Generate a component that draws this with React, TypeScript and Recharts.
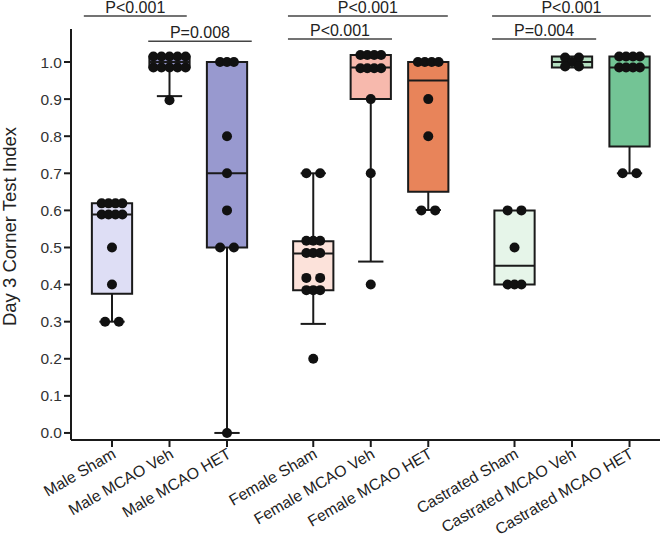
import { ScatterChart, Scatter, XAxis, YAxis, ReferenceArea, ReferenceLine, Label } from 'recharts'

const categories = [
  'Male Sham', 'Male MCAO Veh', 'Male MCAO HET',
  'Female Sham', 'Female MCAO Veh', 'Female MCAO HET',
  'Castrated Sham', 'Castrated MCAO Veh', 'Castrated MCAO HET',
]
// groups are spaced apart on a numeric x axis
const positions = [0, 1, 2, 3.5, 4.5, 5.5, 7, 8, 9]
const boxColors = ['#dedef5', '#9899cf', '#9899cf', '#fce2da', '#f7b9ad', '#e8845a', '#e6f5e9', '#b5dfc1', '#73c495']

// box stats (null = no whisker drawn)
const whiskerLow = [0.3, 0.908, 0.0, 0.294, 0.462, 0.601, null, null, 0.7]
const q1 = [0.375, 0.985, 0.5, 0.385, 0.9, 0.65, 0.4, 0.985, 0.772]
const median = [0.589, 1.0, 0.7, 0.484, 0.985, 0.95, 0.451, 1.0, 0.985]
const q3 = [0.619, 1.015, 1.0, 0.517, 1.019, 1.0, 0.6, 1.015, 1.015]
const whiskerHigh = [null, null, null, 0.7, null, null, null, null, null]

// individual animals
const maleSham = [0.619, 0.619, 0.619, 0.619, 0.589, 0.589, 0.589, 0.589, 0.5, 0.4, 0.3, 0.3]
const maleVeh = [1.015, 1.015, 1.015, 1.015, 1.015, 0.985, 0.985, 0.985, 0.985, 0.985, 0.897]
const maleHet = [1.0, 1.0, 1.0, 0.8, 0.7, 0.6, 0.5, 0.5, 0.0]
const femaleSham = [0.7, 0.7, 0.518, 0.518, 0.518, 0.485, 0.485, 0.485, 0.418, 0.418, 0.385, 0.385, 0.385, 0.2]
const femaleVeh = [1.019, 1.019, 1.019, 1.019, 0.983, 0.983, 0.983, 0.983, 0.9, 0.7, 0.4]
const femaleHet = [1.0, 1.0, 1.0, 1.0, 0.9, 0.8, 0.6, 0.6]
const castSham = [0.6, 0.6, 0.5, 0.4, 0.4, 0.4]
const castVeh = [1.012, 1.012, 1.0, 0.988, 0.988]
const castHet = [1.015, 1.015, 1.015, 1.015, 0.985, 0.985, 0.985, 0.985, 0.7, 0.7]
const groupDots = [maleSham, maleVeh, maleHet, femaleSham, femaleVeh, femaleHet, castSham, castVeh, castHet]

// significance brackets
const bracketLabels = ['P<0.001', 'P=0.008', 'P<0.001', 'P<0.001', 'P<0.001', 'P=0.004']
const bracketFrom = [-0.49, 0.63, 3.06, 3.06, 6.61, 6.61]
const bracketTo = [1.3, 2.43, 5.84, 4.87, 9.37, 8.42]
const bracketLevel = [1.124, 1.056, 1.124, 1.062, 1.124, 1.062]

const yTicks = [0, 0.1, 0.2, 0.3, 0.4, 0.5, 0.6, 0.7, 0.8, 0.9, 1.0]

const HALF = 0.35
const CAP = 0.22
const INK = '#1a1a1a'
const FONT = "'Liberation Sans', Arial, sans-serif"

// simple beeswarm: dots with the same value are spread side by side
const dots = groupDots.flatMap((vals, g) => {
  const out: { x: number; y: number }[] = []
  const seen: Record<string, number> = {}
  vals.forEach((v) => {
    const n = vals.filter((w) => w === v).length
    const i = seen[v] ?? 0
    seen[v] = i + 1
    const step = n <= 2 ? 0.24 : n >= 5 ? 0.14 : 0.12
    out.push({ x: positions[g] + (i - (n - 1) / 2) * step, y: v })
  })
  return out
})

const XTick = ({ x, y, payload }: any) => {
  const idx = positions.indexOf(payload.value)
  const tx = x + 5
  const ty = y + 8
  return (
    <text x={tx} y={ty} transform={`rotate(-30 ${tx} ${ty})`} textAnchor="end" fontSize={15.8} fill="#222" fontFamily={FONT}>
      {categories[idx]}
    </text>
  )
}

export default function App() {
  return (
    <div style={{ position: 'absolute', left: 0, top: 0 }}>
      <ScatterChart width={661} height={541} margin={{ top: 29, right: 1, bottom: 0, left: 0 }}>
        <XAxis
          type="number"
          dataKey="x"
          height={101}
          domain={[-0.713, 9.53]}
          ticks={positions}
          allowDataOverflow
          interval={0}
          tick={<XTick />}
          tickSize={7}
          axisLine={{ stroke: INK, strokeWidth: 2 }}
          tickLine={{ stroke: INK, strokeWidth: 2 }}
        />
        <YAxis
          type="number"
          dataKey="y"
          width={71}
          domain={[-0.019, 1.089]}
          ticks={yTicks}
          allowDataOverflow
          interval={0}
          tickFormatter={(v: number) => v.toFixed(1)}
          tick={{ fontSize: 15.5, fill: '#333', fontFamily: FONT }}
          tickSize={7}
          axisLine={{ stroke: INK, strokeWidth: 2 }}
          tickLine={{ stroke: INK, strokeWidth: 2 }}
        >
          <Label value="Day 3 Corner Test Index" angle={-90} position="center" dx={-26} dy={-8} fontSize={18.5} fill="#222" fontFamily={FONT} />
        </YAxis>

        {positions.map((p, i) => (
          <ReferenceArea key={`box-${i}`} x1={p - HALF} x2={p + HALF} y1={q1[i]} y2={q3[i]}
            fill={boxColors[i]} fillOpacity={1} stroke={INK} strokeWidth={2} ifOverflow="visible" />
        ))}
        {positions.map((p, i) => (
          <ReferenceLine key={`med-${i}`} segment={[{ x: p - HALF, y: median[i] }, { x: p + HALF, y: median[i] }]}
            stroke={INK} strokeWidth={2} ifOverflow="visible" />
        ))}
        {positions.map((p, i) => whiskerLow[i] === null ? null : (
          <ReferenceLine key={`wl-${i}`} segment={[{ x: p, y: q1[i] }, { x: p, y: whiskerLow[i] as number }]}
            stroke={INK} strokeWidth={2} ifOverflow="visible" />
        ))}
        {positions.map((p, i) => whiskerLow[i] === null ? null : (
          <ReferenceLine key={`wlc-${i}`} segment={[{ x: p - CAP, y: whiskerLow[i] as number }, { x: p + CAP, y: whiskerLow[i] as number }]}
            stroke={INK} strokeWidth={2} ifOverflow="visible" />
        ))}
        {positions.map((p, i) => whiskerHigh[i] === null ? null : (
          <ReferenceLine key={`wh-${i}`} segment={[{ x: p, y: q3[i] }, { x: p, y: whiskerHigh[i] as number }]}
            stroke={INK} strokeWidth={2} ifOverflow="visible" />
        ))}
        {positions.map((p, i) => whiskerHigh[i] === null ? null : (
          <ReferenceLine key={`whc-${i}`} segment={[{ x: p - CAP, y: whiskerHigh[i] as number }, { x: p + CAP, y: whiskerHigh[i] as number }]}
            stroke={INK} strokeWidth={2} ifOverflow="visible" />
        ))}

        {bracketLabels.map((lab, i) => (
          <ReferenceLine key={`br-${i}`}
            segment={[{ x: bracketFrom[i], y: bracketLevel[i] }, { x: bracketTo[i], y: bracketLevel[i] }]}
            stroke="#444" strokeWidth={1.5} ifOverflow="visible"
            label={{ value: lab, position: 'top', offset: 3, fontSize: 16, fill: '#222', fontFamily: FONT }} />
        ))}

        <Scatter data={dots} isAnimationActive={false}
          shape={(props: any) => <circle cx={props.cx} cy={props.cy} r={5} fill="#111" />} />
      </ScatterChart>
    </div>
  )
}
